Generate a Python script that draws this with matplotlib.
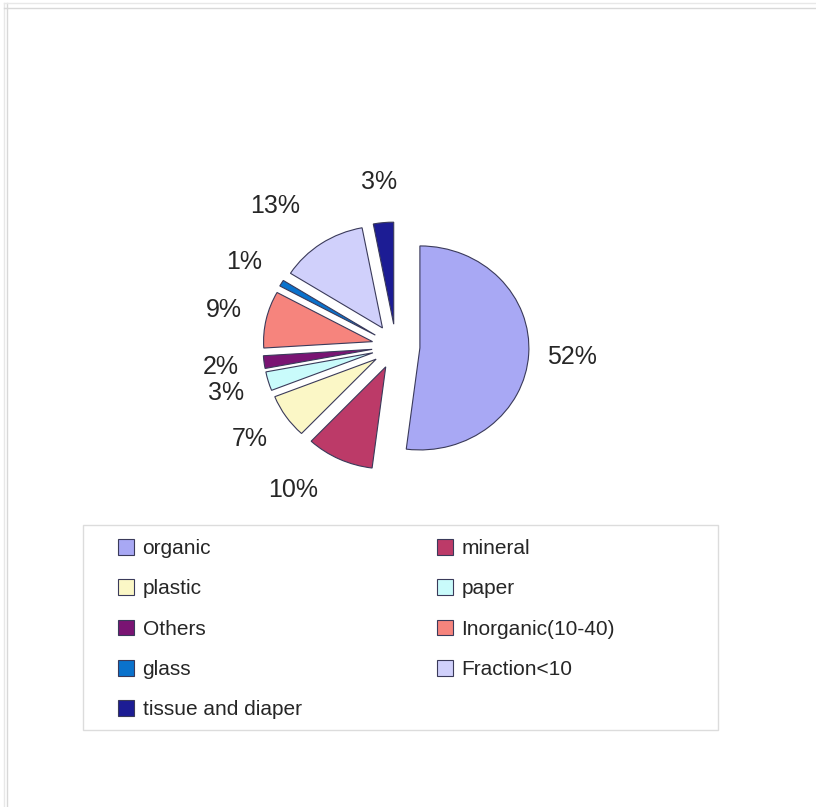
import matplotlib.pyplot as plt
from matplotlib.lines import Line2D
from matplotlib.patches import Rectangle

plt.rcParams['font.family'] = ['Liberation Sans', 'DejaVu Sans']

# waste composition (%)
categories = ["organic", "mineral", "plastic", "paper", "Others",
              "Inorganic(10-40)", "glass", "Fraction<10", "tissue and diaper"]
shares = [52, 10, 7, 3, 2, 9, 1, 13, 3]
colors = ["#a8a8f4", "#bc3a68", "#fbf7c6", "#c9fbfb", "#7a1473",
          "#f6847d", "#0a72cc", "#d0d0fb", "#1c1c94"]

W, H = 816, 807
fig = plt.figure(figsize=(W / 100, H / 100), dpi=100)

# pie slightly wider than tall, like the original sheet
ax = fig.add_axes([0.2181, 0.3178, 0.5343, 0.5056])
wedges, texts, pcts = ax.pie(
    shares,
    colors=colors,
    startangle=90,
    counterclock=False,
    explode=[0.22] * len(shares),
    autopct=lambda p: f"{p:.0f}%",
    pctdistance=1.40,
    wedgeprops=dict(edgecolor="#3a3a5a", linewidth=0.8),
    textprops=dict(fontsize=18, color="#262626"),
    frame=False,
)
ax.set_aspect("auto")
ax.set_xlim(-2, 2)
ax.set_ylim(-2, 2)
ax.axis("off")
for w in wedges:
    w.set_clip_on(False)

# push the mineral and fraction labels a bit further out to the left
for i, (dx, dy) in {1: (-0.25, 0.06), 7: (-0.20, 0.04)}.items():
    x, y = pcts[i].get_position()
    pcts[i].set_position((x + dx, y + dy))

# legend, filled row by row
order = [0, 2, 4, 6, 8, 1, 3, 5, 7]
leg = fig.legend(
    [wedges[i] for i in order], [categories[i] for i in order],
    ncols=2, loc="upper left",
    bbox_to_anchor=(118 / W, 1 - 539 / H),
    frameon=False, fontsize=15, borderpad=0, borderaxespad=0,
    handlelength=0.78, handleheight=0.78, handletextpad=0.4,
    labelspacing=1.02, columnspacing=6.5,
)
for t in leg.get_texts():
    t.set_color("#262626")

# legend box
fig.add_artist(Rectangle((83 / W, 1 - 730 / H), (718 - 83) / W, (730 - 525) / H,
                         transform=fig.transFigure, fill=False,
                         edgecolor="#dcdcdc", linewidth=1))

# page border
for x, c in [(4, "#e8e8e8"), (7, "#d8d8d8")]:
    fig.add_artist(Line2D([x / W, x / W], [0, 1 - 3 / H], transform=fig.transFigure,
                          color=c, linewidth=1))
for y, c in [(3, "#e8e8e8"), (8, "#d8d8d8")]:
    fig.add_artist(Line2D([4 / W, 1], [1 - y / H, 1 - y / H], transform=fig.transFigure,
                          color=c, linewidth=1))

fig.savefig("out.png", dpi=100)
